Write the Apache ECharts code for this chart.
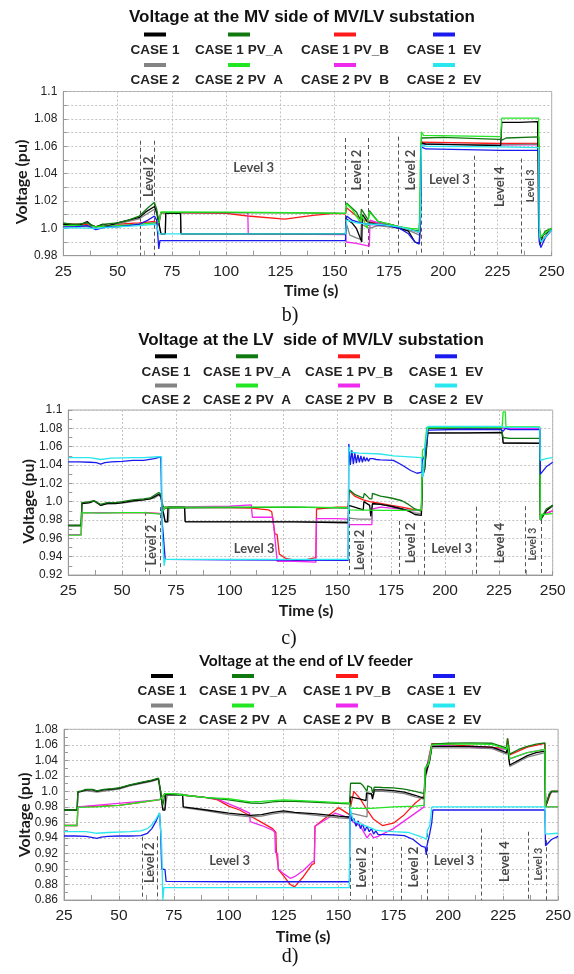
<!DOCTYPE html>
<html><head><meta charset="utf-8">
<script src="https://cdn.jsdelivr.net/npm/echarts@6/dist/echarts.min.js"></script>
<style>html,body{margin:0;padding:0;background:#fff}#c{width:574px;height:974px}</style>
</head><body><div id="c"></div>
<script>
// ---------- shared ----------
const seriesNames = ['CASE 1','CASE 1 PV_A','CASE 1 PV_B','CASE 1  EV','CASE 2','CASE 2 PV  A','CASE 2 PV  B','CASE 2  EV'];
const xTicks = [25,50,75,100,125,150,175,200,225,250];
const mvTickLabels = ['0.98','1.0','1.02','1.04','1.06','1.08','1.1'];
const lvTickLabels = ['0.92','0.94','0.96','0.98','1.0','1.02','1.04','1.06','1.08','1.1'];
const efTickLabels = ['0.86','0.88','0.90','0.92','0.94','0.96','0.98','1.0','1.02','1.04','1.06','1.08'];
const panelTitles = ['Voltage at the MV side of MV/LV substation','Voltage at the LV  side of MV/LV substation','Voltage at the end of LV feeder'];
const panelCaptions = ['b)','c)','d)'];

// ---------- panel b) MV side ----------
const mvC1 = [[25,1.003],[28,1.003],[32,1.002],[36,1.005],[38,1.002],[40,1.001],[43,1.003],[46,1.002],[50,1.004],[55,1.006],[60,1.008],[63,1.012],[67,1.016],[68,1.012],[69,1.004],[70,0.996],[72,0.996],[72.2,1.011],[79,1.011],[79.2,0.996],[100,0.996],[130,0.996],[155,0.996],[155.3,1.007],[158,1.004],[160,1.0],[162.5,0.99],[162.8,1.01],[165,1.005],[166,1.004],[170,1.003],[175,1.002],[180,1.0],[184,0.998],[187,0.99],[189,0.989],[189.5,1.005],[190,1.0625],[192,1.0615],[210,1.061],[226.5,1.0605],[227,1.0775],[235,1.0775],[243.5,1.078],[244,1.0],[244.5,0.988],[246,0.995],[250,0.999]];
const mvPvA = [[25,1.004],[28,1.003],[32,1.003],[36,1.004],[40,1.001],[44,1.003],[50,1.004],[55,1.006],[60,1.009],[64,1.015],[67,1.019],[68,1.014],[69,1.005],[70,1.0115],[100,1.0115],[130,1.0113],[155,1.011],[155.5,1.0185],[160,1.012],[162,1.006],[162.3,1.014],[165.5,1.006],[166,1.013],[170,1.005],[175,1.003],[180,1.001],[185,0.999],[189,0.998],[189.5,1.02],[190,1.066],[200,1.0665],[226,1.065],[227,1.0645],[229,1.066],[244,1.0668],[244.3,1.0],[245,0.992],[247,0.998],[250,1.0]];
const mvPvB = [[25,1.003],[35,1.003],[40,1.001],[50,1.003],[60,1.004],[67,1.005],[69,1.003],[70,1.0115],[100,1.011],[110,1.009],[127,1.0067],[140,1.0095],[150,1.011],[155,1.0105],[155.5,1.015],[160,1.009],[165,1.005],[170,1.004],[175,1.003],[180,1.001],[185,0.999],[189,0.997],[189.5,1.02],[190,1.063],[226,1.062],[227,1.062],[244,1.062],[244.3,1.0],[245,0.99],[250,1.0]];
const mvEv = [[25,1.001],[30,1.001],[36,1.002],[40,0.999],[45,1.001],[50,1.001],[55,1.002],[60,1.003],[64,1.006],[67,1.009],[68,1.006],[69,0.985],[69.5,0.991],[100,0.991],[155,0.991],[155.5,1.009],[158,1.006],[162,1.004],[165,1.003],[170,1.0025],[175,1.002],[180,1.0],[184,0.996],[187,0.99],[189,0.9885],[189.5,1.005],[190,1.0595],[192,1.058],[210,1.0575],[226.5,1.057],[227,1.0565],[244,1.057],[244.3,0.99],[245,0.986],[247,0.993],[250,0.999]];
const mvC2 = [[25,1.003],[30,1.002],[36,1.004],[40,1.001],[45,1.002],[50,1.003],[55,1.005],[60,1.007],[64,1.011],[67,1.014],[68,1.011],[69,1.003],[70,0.996],[72,0.996],[72.2,1.011],[79,1.011],[79.2,0.996],[155,0.996],[155.3,1.004],[157,0.995],[160,0.993],[162,0.992],[162.3,1.003],[166,1.0],[170,1.002],[180,1.0],[185,0.998],[189,0.995],[189.5,1.01],[190,1.062],[200,1.0615],[226.5,1.061],[227,1.0615],[244,1.0615],[244.3,0.995],[245,0.99],[250,0.999]];
const mvPvA2 = [[25,1.002],[35,1.002],[40,1.001],[50,1.002],[60,1.003],[67,1.004],[69,1.004],[70,1.012],[100,1.0118],[130,1.0115],[155,1.011],[155.5,1.018],[158,1.014],[162,1.004],[162.3,1.01],[165,1.0],[166,1.012],[170,1.005],[175,1.003],[180,1.001],[185,1.0],[189,0.9995],[189.5,1.05],[190,1.0705],[191,1.068],[226.5,1.067],[227,1.0805],[244,1.0805],[244.3,1.0],[245,0.994],[250,1.0]];
const mvPvB2 = [[25,1.002],[40,1.001],[50,1.002],[60,1.003],[67,1.004],[69,1.003],[70,1.0115],[110,1.0115],[110.2,0.996],[155,0.9955],[155.3,0.99],[160,0.989],[166,0.987],[166.3,1.006],[170,1.004],[175,1.003],[180,1.001],[185,0.999],[189,0.997],[189.5,1.02],[190,1.0615],[226,1.061],[244,1.061],[244.3,0.998],[245,0.99],[250,0.999]];
const mvEv2 = [[25,1.0],[30,1.0005],[40,1.0],[50,1.001],[60,1.002],[67,1.003],[68,1.002],[69,0.996],[70,0.996],[155,0.996],[155.5,1.006],[160,1.004],[165,1.003],[170,1.003],[175,1.002],[180,1.001],[185,0.999],[189,0.997],[189.5,1.01],[190,1.061],[192,1.06],[226,1.0595],[244,1.059],[244.3,0.995],[245,0.99],[250,0.999]];
const mvLevelLines = [[60.3,1.064],[66.9,1.064],[155.0,1.066],[165.3,1.066],[179.1,1.067],[189.8,1.067],[214.4,1.053],[235.8,1.051]];
const mvLevelLabels = [['Level 2',64.6,1.0377,'v'],['Level 3',112.7,1.0443,'h'],['Level 2',160.2,1.0426,'v'],['Level 2',184.9,1.0426,'v'],['Level 3',202.9,1.0358,'h'],['Level 4',225.9,1.0304,'v'],['Level 3',240.4,1.031,'s']];

// ---------- panel c) LV side ----------
const lvC1 = [[25,0.974],[31,0.974],[31.3,0.998],[35,0.999],[37,1.001],[40,0.996],[43,0.998],[47,0.998],[50,0.999],[55,1.001],[60,1.002],[63,1.003],[67,1.008],[68,1.006],[69,0.99],[70,0.978],[71,0.978],[71.3,0.994],[79,0.994],[79.3,0.978],[100,0.978],[130,0.978],[155,0.977],[155.3,0.996],[158,0.994],[162,0.991],[162.3,1.0],[165,0.996],[165.5,0.984],[166,0.984],[166.3,0.998],[170,0.997],[175,0.995],[180,0.992],[183,0.99],[186,0.986],[189,0.985],[189.5,1.028],[190.5,1.035],[192,1.075],[210,1.075],[226.5,1.0755],[227,1.064],[244,1.0635],[244.3,0.98],[245,0.979],[247,0.99],[250,0.996]];
const lvPvA = [[25,0.974],[31,0.974],[31.3,0.999],[35,1.0],[37,1.001],[40,0.997],[43,0.999],[47,0.999],[50,1.0],[55,1.002],[60,1.003],[63,1.004],[67,1.01],[68,1.008],[69,0.995],[70,0.993],[100,0.9935],[130,0.994],[155,0.993],[155.5,1.013],[158,1.008],[162,1.004],[162.5,1.009],[165,1.003],[166,1.003],[166.3,1.009],[170,1.006],[175,1.004],[180,1.001],[183,0.997],[186,0.992],[189,0.99],[189.5,1.03],[190.5,1.038],[192,1.08],[226,1.0805],[227,1.07],[230,1.069],[244,1.069],[244.3,0.98],[245,0.982],[247,0.992],[250,0.996]];
const lvPvB = [[25,0.964],[31,0.964],[31.3,0.988],[60,0.988],[68,0.987],[69,0.99],[70,0.994],[100,0.9935],[110,0.993],[118,0.991],[119.5,0.989],[120,0.98],[121,0.965],[122,0.964],[123,0.943],[126,0.938],[131,0.936],[136,0.937],[140,0.939],[140.3,0.992],[150,0.994],[155,0.994],[155.5,1.012],[158,1.006],[162,1.002],[165,1.0],[170,0.998],[175,0.996],[180,0.994],[184,0.992],[189,0.99],[189.5,1.03],[190.5,1.04],[192,1.08],[226,1.08],[244,1.08],[244.3,0.985],[245,0.983],[250,0.99]];
const lvEv = [[25,1.0435],[30,1.0435],[35,1.043],[38,1.0425],[40,1.041],[42,1.0425],[45,1.0435],[50,1.044],[55,1.045],[60,1.045],[65,1.047],[68,1.049],[68.5,0.98],[69,0.967],[69.5,0.967],[70,0.937],[100,0.9365],[155,0.936],[155.3,1.063],[156,1.04],[156.7,1.056],[157.4,1.041],[158.1,1.053],[158.8,1.042],[159.5,1.051],[160.2,1.043],[160.9,1.05],[161.6,1.043],[162.3,1.049],[163,1.044],[163.7,1.048],[164.4,1.044],[165.1,1.047],[165.8,1.045],[166.5,1.047],[167.2,1.045],[168,1.046],[170,1.0455],[176,1.045],[180,1.04],[184,1.034],[187,1.031],[189,1.032],[189.5,1.045],[190.5,1.05],[192,1.078],[210,1.079],[226,1.0785],[227,1.077],[228,1.08],[230,1.0785],[244,1.0785],[244.3,1.03],[245,1.028],[247,1.038],[250,1.043]];
const lvC2 = [[25,0.974],[31,0.974],[31.3,0.998],[35,0.999],[37,1.0005],[40,0.996],[43,0.998],[50,0.9985],[55,1.0],[60,1.002],[65,1.004],[67,1.007],[68,1.005],[69,0.99],[70,0.978],[71.5,0.978],[71.8,0.994],[79,0.994],[79.3,0.9785],[155,0.978],[155.3,0.982],[160,0.981],[166,0.981],[166.3,0.997],[170,0.997],[175,0.995],[180,0.992],[185,0.988],[189,0.987],[189.5,1.028],[190.5,1.035],[192,1.0745],[226.5,1.075],[227,1.064],[244,1.064],[244.3,0.98],[245,0.978],[247,0.99],[250,0.995]];
const lvPvA2 = [[25,0.9635],[31,0.9635],[31.3,0.988],[40,0.9875],[50,0.988],[60,0.988],[65,0.987],[68,0.9865],[69,0.99],[70,0.994],[100,0.994],[130,0.994],[155,0.9935],[155.5,0.991],[170,0.9905],[180,0.9905],[189,0.991],[189.5,1.056],[190.5,1.058],[191.5,1.081],[226.5,1.081],[227,1.098],[228,1.098],[228.3,1.0815],[244,1.0815],[244.3,0.98],[245,0.986],[250,0.987]];
const lvPvB2 = [[25,0.964],[31,0.964],[31.3,0.988],[60,0.988],[68,0.987],[69,0.99],[70,0.994],[100,0.995],[110,0.9965],[110.5,0.983],[120,0.983],[121,0.96],[122,0.935],[130,0.935],[140,0.934],[140.3,0.9815],[150,0.9815],[155,0.981],[155.5,0.975],[160,0.975],[166,0.975],[166.3,0.992],[170,0.994],[175,0.993],[180,0.992],[185,0.99],[189,0.991],[189.5,1.03],[190.5,1.04],[192,1.08],[244,1.08],[244.3,0.985],[245,0.983],[250,0.99]];
const lvEv2 = [[25,1.048],[35,1.048],[40,1.046],[45,1.0475],[55,1.048],[60,1.048],[67,1.049],[68.3,1.049],[68.6,0.967],[69.5,0.93],[70,0.937],[100,0.937],[155,0.937],[155.3,1.06],[156,1.054],[160,1.053],[170,1.052],[176,1.05],[189,1.048],[189.5,1.027],[190,1.03],[190.5,1.056],[192,1.082],[226,1.082],[228,1.081],[244,1.081],[244.3,1.045],[245,1.044],[247,1.047],[250,1.048]];
const lvLevelLines = [[60.6,0.989],[67.6,0.994],[155.5,0.991],[165.6,0.9685],[178.7,0.979],[190.2,0.978],[214.7,0.9945],[237.1,0.995],[244.8,0.98]];
const lvLevelLabels = [['Level 2',64.0,0.9527,'v'],['Level 3',111.3,0.9491,'h'],['Level 2',160.2,0.9473,'v'],['Level 2',184.2,0.9549,'v'],['Level 3',203.1,0.9491,'h'],['Level 4',225.5,0.9549,'v'],['Level 3',240.5,0.9538,'s']];

// ---------- panel d) end of LV feeder ----------
const efC1 = [[25,0.976],[31,0.976],[31.3,0.999],[33,1.0],[35,1.002],[38,1.002],[40,1.0],[43,1.002],[47,1.003],[50,1.004],[55,1.008],[60,1.011],[65,1.014],[68,1.0165],[69,1.0],[70,0.976],[71,0.976],[71.3,0.996],[79,0.996],[79.3,0.98],[90,0.976],[100,0.972],[110,0.969],[115,0.97],[120,0.973],[125,0.975],[130,0.973],[140,0.971],[150,0.968],[155,0.967],[155.5,0.993],[160,0.99],[162.5,0.988],[162.8,0.998],[165,0.997],[165.5,0.99],[166,0.99],[166.3,1.002],[170,1.002],[175,1.001],[180,0.999],[185,0.995],[189,0.991],[189.5,1.02],[190.5,1.03],[191.5,1.04],[192.5,1.058],[200,1.058],[210,1.058],[220,1.057],[226.5,1.05],[227,1.058],[227.5,1.056],[228,1.034],[232,1.04],[236,1.046],[240,1.05],[244,1.052],[244.3,0.98],[245,0.98],[246,0.996],[247,1.0],[250,1.0]];
const efPvA = [[25,0.976],[31,0.976],[31.3,0.9995],[33,1.0005],[35,1.0025],[38,1.0025],[40,1.0005],[43,1.0025],[47,1.0035],[50,1.0045],[55,1.0085],[60,1.0115],[65,1.0145],[68,1.017],[69,1.0],[70,0.982],[71,0.997],[75,0.9965],[80,0.995],[90,0.992],[100,0.989],[110,0.985],[115,0.9845],[120,0.9865],[125,0.9875],[130,0.987],[140,0.986],[150,0.9845],[155,0.984],[155.5,1.0105],[160,1.0105],[161,1.008],[163,1.0],[163.3,1.007],[165,1.005],[165.5,0.998],[166,0.998],[166.3,1.0055],[170,1.005],[175,1.0045],[180,1.003],[185,1.0],[189,0.997],[189.5,1.03],[190.5,1.035],[191.5,1.04],[192.5,1.061],[200,1.062],[210,1.0625],[220,1.062],[226.5,1.056],[227,1.0685],[227.5,1.068],[228,1.048],[232,1.054],[236,1.058],[240,1.061],[244,1.0625],[244.3,0.98],[245,0.982],[246,0.997],[247,1.0],[250,1.0]];
const efPvB = [[25,0.956],[31,0.956],[31.3,0.98],[50,0.982],[60,0.986],[68,0.989],[69,0.99],[71,0.997],[75,0.9965],[80,0.995],[90,0.992],[95,0.989],[100,0.981],[105,0.976],[110,0.968],[115,0.96],[120,0.952],[121.5,0.947],[121.7,0.923],[122.5,0.922],[122.7,0.899],[125,0.891],[128,0.88],[130,0.877],[134,0.89],[138,0.906],[139,0.907],[139.3,0.955],[145,0.968],[150,0.979],[155,0.97],[155.5,0.98],[157,1.0],[160,0.99],[163,0.976],[166,0.964],[170,0.956],[175,0.959],[180,0.97],[185,0.985],[189,0.994],[189.5,1.02],[190.5,1.035],[192.5,1.0615],[226.5,1.0555],[227,1.068],[228,1.047],[236,1.057],[244,1.062],[244.3,0.98],[245,0.982],[247,1.0],[250,1.0]];
const efEv = [[25,0.9425],[30,0.9425],[35,0.942],[40,0.9395],[42,0.941],[45,0.942],[50,0.9425],[55,0.9425],[60,0.943],[63,0.946],[65,0.952],[67,0.962],[68.5,0.972],[69,0.95],[69.5,0.9],[70,0.902],[71,0.899],[71.5,0.884],[72,0.883],[100,0.8835],[130,0.8835],[155,0.8835],[155.3,0.976],[156,0.962],[157,0.965],[158,0.955],[159,0.962],[160,0.952],[161,0.958],[162,0.949],[163,0.955],[164,0.948],[165,0.952],[166,0.945],[167,0.949],[168,0.9445],[175,0.944],[180,0.943],[184,0.938],[188,0.929],[189.5,0.928],[190,0.918],[190.3,0.93],[191,0.932],[191.5,0.945],[192.5,0.96],[193,0.976],[200,0.976],[220,0.976],[244,0.976],[244.3,0.93],[245,0.928],[247,0.938],[250,0.942]];
const efC2 = [[25,0.976],[31,0.976],[31.3,0.999],[35,1.001],[40,0.999],[45,1.001],[50,1.003],[55,1.007],[60,1.01],[65,1.013],[68,1.0155],[69,0.995],[70,0.978],[71,0.978],[72,0.995],[79,0.995],[79.3,0.979],[90,0.975],[100,0.97],[110,0.967],[115,0.968],[120,0.971],[125,0.973],[130,0.972],[140,0.969],[150,0.966],[155,0.965],[155.5,0.972],[160,0.969],[163,0.967],[163.3,0.997],[166,0.995],[166.3,1.0],[170,1.0],[175,0.999],[180,0.997],[185,0.993],[189,0.99],[189.5,1.015],[190.5,1.028],[191.5,1.038],[192.5,1.056],[210,1.056],[220,1.055],[226.5,1.048],[227,1.055],[228,1.032],[236,1.044],[244,1.05],[244.3,0.98],[245,0.979],[246,0.995],[247,0.999],[250,0.999]];
const efPvA2 = [[25,0.956],[31,0.956],[31.3,0.9795],[40,0.98],[50,0.982],[55,0.984],[60,0.986],[65,0.988],[68,0.989],[69,0.99],[71,0.997],[75,0.997],[80,0.995],[90,0.992],[100,0.9905],[110,0.9865],[115,0.987],[120,0.988],[125,0.989],[130,0.9885],[140,0.987],[150,0.9855],[155,0.985],[155.5,0.978],[165,0.978],[175,0.98],[185,0.981],[189,0.982],[189.5,1.03],[191,1.035],[192.5,1.06],[200,1.061],[210,1.061],[220,1.0605],[226.5,1.054],[227,1.06],[228,1.042],[232,1.046],[236,1.05],[240,1.052],[244,1.054],[244.3,0.98],[250,0.98]];
const efPvB2 = [[25,0.956],[31,0.956],[31.3,0.98],[68,0.989],[69,0.99],[71,0.997],[80,0.995],[90,0.992],[95,0.99],[100,0.984],[105,0.978],[109.5,0.972],[109.8,0.961],[115,0.956],[120,0.95],[121,0.947],[121.3,0.921],[122.3,0.92],[122.6,0.9],[125,0.894],[128,0.888],[130,0.89],[134,0.898],[138,0.909],[139,0.91],[139.3,0.955],[145,0.965],[148.5,0.972],[155,0.9655],[157,0.96],[160,0.955],[163,0.94],[164.5,0.946],[166,0.94],[168,0.942],[175,0.952],[180,0.962],[185,0.972],[189,0.98],[189.5,1.02],[190.5,1.035],[192.5,1.06],[226.5,1.054],[227,1.06],[228,1.042],[236,1.05],[244,1.054],[244.3,0.98],[250,0.98]];
const efEv2 = [[25,0.948],[35,0.948],[40,0.946],[45,0.947],[55,0.948],[60,0.949],[63,0.952],[65,0.957],[67,0.965],[68.5,0.972],[69.5,0.93],[70,0.86],[70.5,0.876],[100,0.876],[155,0.876],[155.3,0.98],[156,0.97],[157,0.962],[160,0.958],[163,0.955],[167,0.95],[170,0.949],[175,0.948],[182,0.947],[186,0.943],[189,0.94],[190,0.938],[190.5,0.95],[191.5,0.955],[192.5,0.98],[244,0.98],[244.3,0.945],[245,0.944],[250,0.946]];
const efLevelLines = [[60.6,0.9416],[67.4,0.942],[155.4,0.9155],[165.2,0.9285],[178.4,0.9285],[190.2,0.946],[215.2,0.952],[236.2,0.948],[244.5,0.937]];
const efLevelLabels = [['Level 2',64.1,0.908,'v'],['Level 3',100.4,0.9107,'h'],['Level 2',160.7,0.9019,'v'],['Level 2',184.1,0.9025,'v'],['Level 3',202.6,0.9103,'h'],['Level 4',225.7,0.9094,'v'],['Level 3',241.2,0.9064,'s']];

// ---------- styling / layout ----------
const colors = ['#000000','#0f780f','#ff1a1a','#1a1aee','#838383','#22e622','#ee2aee','#2ae6ee'];
const panels = [
  {series:[mvC1,mvPvA,mvPvB,mvEv,mvC2,mvPvA2,mvPvB2,mvEv2], min:0.98, max:1.1, labels:mvTickLabels, minorGrid:true, lines:mvLevelLines, lvl:mvLevelLabels,
   grid:{left:63.3,top:91.5,width:488.4,height:164.2}, title:{x:302,y:17}, leg:{cols:[155,239,345,444], r1b:34.5,r1t:50,r2b:65,r2t:80}, ytitle:{x:21.7,y:182}, xtitle:{x:311,y:291}, cap:{x:290,y:316}, titleFont:'bold 17px "Liberation Sans", Arial, sans-serif'},
  {series:[lvC1,lvPvA,lvPvB,lvEv,lvC2,lvPvA2,lvPvB2,lvEv2], min:0.92, max:1.1, labels:lvTickLabels, minorGrid:false, lines:lvLevelLines, lvl:lvLevelLabels,
   grid:{left:68.3,top:410,width:484.4,height:165}, title:{x:311,y:340}, leg:{cols:[166,247,349,446], r1b:356.3,r1t:372,r2b:385.5,r2t:400}, ytitle:{x:29.3,y:501.5}, xtitle:{x:306,y:610.7}, cap:{x:289,y:639}, titleFont:'bold 17px "Liberation Sans", Arial, sans-serif'},
  {series:[efC1,efPvA,efPvB,efEv,efC2,efPvA2,efPvB2,efEv2], min:0.86, max:1.08, labels:efTickLabels, minorGrid:false, lines:efLevelLines, lvl:efLevelLabels,
   grid:{left:64,top:729.3,width:495.3,height:170.7}, title:{x:306,y:661}, leg:{cols:[162,243,347,444], r1b:676,r1t:691.3,r2b:705.5,r2t:720.5}, ytitle:{x:25,y:815}, xtitle:{x:303,y:936.7}, cap:{x:290,y:957}, titleFont:'bold 15.5px Lato, sans-serif'}
];
const drawOrder = [2,6,4,0,1,5,3,7];

const grids=[], xAxes=[], yAxes=[], series=[], graphic=[];
panels.forEach((p,gi)=>{
  grids.push(Object.assign({show:true,borderColor:'#a8a8a8',borderWidth:1}, p.grid));
  xAxes.push({type:'value',gridIndex:gi,min:25,max:250,interval:25,
    axisLine:{show:true,onZero:false,lineStyle:{color:'#999'}},
    axisTick:{show:true,inside:true,length:4,lineStyle:{color:'#999'}},
    minorTick:{show:true,splitNumber:2,length:5,lineStyle:{color:'#999'}},
    axisLabel:{fontSize:15.5,color:'#222',margin:8,fontFamily:'"Liberation Sans", Arial, sans-serif',showMinLabel:true,showMaxLabel:true},
    splitLine:{show:true,lineStyle:{color:'#c2c2c2',type:[2,2],width:1}}});
  yAxes.push({type:'value',gridIndex:gi,min:p.min,max:p.max,interval:0.02,
    axisLine:{show:true,lineStyle:{color:'#999'}},
    axisTick:{show:true,inside:true,length:4,lineStyle:{color:'#999'}},
    minorTick:{show:true,splitNumber:2,length:4,lineStyle:{color:'#999'}},
    minorSplitLine:{show:p.minorGrid,lineStyle:{color:'#c2c2c2',type:[2,2],width:1}},
    axisLabel:{fontSize:12,color:'#222',margin:6,fontFamily:'"Liberation Sans", Arial, sans-serif',
      formatter:(v)=>p.labels[Math.round((v-p.min)/0.02)] || ''},
    splitLine:{show:true,lineStyle:{color:'#c2c2c2',type:[2,2],width:1}}});
  // level dashed lines
  series.push({type:'lines',coordinateSystem:'cartesian2d',xAxisIndex:gi,yAxisIndex:gi,silent:true,animation:false,
    lineStyle:{color:'#555',width:1,type:[4,3],opacity:1},
    data:p.lines.map(l=>({coords:[[l[0],l[1]],[l[0],p.min]]}))});
  drawOrder.forEach(si=>{
    series.push({type:'line',name:seriesNames[si],xAxisIndex:gi,yAxisIndex:gi,data:p.series[si],symbol:'none',
      animation:false,silent:true,lineStyle:{color:colors[si],width:1.3},itemStyle:{color:colors[si]}});
  });
  // level labels
  series.push({type:'scatter',xAxisIndex:gi,yAxisIndex:gi,symbolSize:0,silent:true,animation:false,z:5,
    data:p.lvl.map(l=>({value:[l[1],l[2]],label:{show:true,position:'inside',formatter:l[0],
      rotate:l[3]==='h'?0:90,fontSize:l[3]==='s'?10.5:13,fontWeight:'bold',fontFamily:'Lato, sans-serif',color:'#1a1a1a'}}))});
  // title
  graphic.push({type:'text',x:p.title.x,y:p.title.y,style:{text:panelTitles[gi],font:p.titleFont,fill:'#111',textAlign:'center',textVerticalAlign:'middle',align:'center',verticalAlign:'middle'}});
  // legend (marker above text), 2 rows x 4 columns
  for(let k=0;k<8;k++){
    const col=k%4,row=Math.floor(k/4);
    const cx=p.leg.cols[col];
    const by=row===0?p.leg.r1b:p.leg.r2b, ty=row===0?p.leg.r1t:p.leg.r2t;
    graphic.push({type:'rect',shape:{x:cx-11,y:by-2,width:22,height:4},style:{fill:colors[k]}});
    graphic.push({type:'text',x:cx,y:ty,style:{text:seriesNames[k],font:'bold 13.5px "Liberation Sans", Arial, sans-serif',fill:'#222',textAlign:'center',textVerticalAlign:'middle',align:'center',verticalAlign:'middle'}});
  }
  graphic.push({type:'text',x:p.ytitle.x,y:p.ytitle.y,rotation:Math.PI/2,style:{text:'Voltage (pu)',font:'bold 16px Lato, sans-serif',fill:'#1a1a1a',textAlign:'center',textVerticalAlign:'middle',align:'center',verticalAlign:'middle'}});
  graphic.push({type:'text',x:p.xtitle.x,y:p.xtitle.y,style:{text:'Time (s)',font:'bold 16px Lato, sans-serif',fill:'#1a1a1a',textAlign:'center',textVerticalAlign:'middle',align:'center',verticalAlign:'middle'}});
  graphic.push({type:'text',x:p.cap.x,y:p.cap.y,style:{text:panelCaptions[gi],font:'20px "Liberation Serif", "Times New Roman", serif',fill:'#111',textAlign:'center',textVerticalAlign:'middle',align:'center',verticalAlign:'middle'}});
});

const chart = echarts.init(document.getElementById('c'),null,{renderer:'canvas'});
chart.setOption({animation:false,backgroundColor:'#fff',grid:grids,xAxis:xAxes,yAxis:yAxes,series:series,graphic:graphic});
</script></body></html>
